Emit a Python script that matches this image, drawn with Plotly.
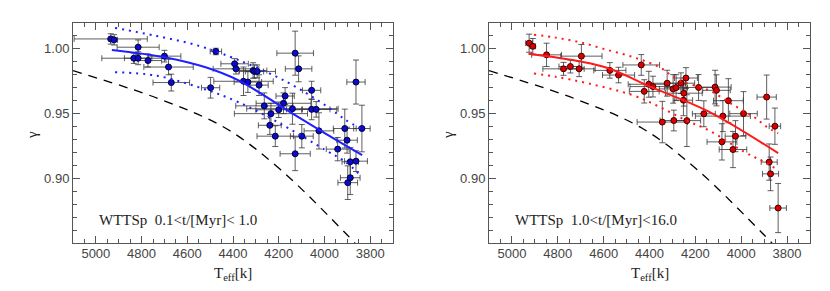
import plotly.graph_objects as go

# ---------------- data: left panel (WTTSp 0.1<t/[Myr]<1.0) ----------------
teff_a = [4935, 4920, 4815, 4834, 4815, 4772, 4700, 4682, 4670, 4498,
          4475, 4393, 4387, 4354, 4335, 4312, 4306, 4294, 4286, 4263,
          4239, 4234, 4215, 4200, 4179, 4172, 4140, 4128, 4128, 4113,
          4099, 4056, 4056, 4036, 4024, 3942, 3911, 3901, 3898, 3887,
          3887, 3862, 3862, 3836]
gamma_a = [1.0077, 1.0070, 1.0013, 0.9928, 0.9928, 0.9910, 0.9944, 0.9860, 0.9740, 0.9700,
           0.9980, 0.9885, 0.9846, 0.9750, 0.9744, 0.9833, 0.9826, 0.9826, 0.9720, 0.9560,
           0.9410, 0.9500, 0.9326, 0.9530, 0.9580, 0.9636, 0.9538, 0.9967, 0.9190, 0.9846,
           0.9326, 0.9680, 0.9533, 0.9533, 0.9367, 0.9226, 0.9385, 0.9295, 0.8967, 0.9128,
           0.9005, 0.9744, 0.9133, 0.9385]
dteff_a = [160, 15, 92, 140, 60, 60, 72, 108, 80, 40,
           25, 60, 100, 130, 60, 60, 40, 80, 40, 125,
           50, 160, 80, 100, 120, 40, 200, 80, 66, 58,
           50, 40, 110, 60, 65, 50, 50, 45, 43, 36,
           43, 40, 50, 36]
dgamma_a = [0.004, 0.004, 0.0056, 0.004, 0.005, 0.005, 0.0045, 0.006, 0.0065, 0.008,
            0.0025, 0.004, 0.004, 0.011, 0.008, 0.006, 0.005, 0.005, 0.008, 0.010,
            0.007, 0.008, 0.008, 0.006, 0.008, 0.0065, 0.012, 0.017, 0.013, 0.010,
            0.009, 0.007, 0.008, 0.006, 0.014, 0.009, 0.015, 0.010, 0.013, 0.011,
            0.013, 0.017, 0.008, 0.018]

fit_teff_a = [4930, 4700, 4520, 4380, 4130, 3990, 3835]
fit_a = [0.9992, 0.9936, 0.9858, 0.9760, 0.9490, 0.9340, 0.9180]
up_teff_a = [4916, 4740, 4552, 4378, 4170, 3997, 3910, 3837]
up_a = [1.0162, 1.0102, 1.0025, 0.9915, 0.9750, 0.9566, 0.9455, 0.9380]
lo_teff_a = [4916, 4740, 4552, 4378, 4170, 3997, 3910, 3837]
lo_a = [0.9820, 0.9795, 0.9705, 0.9590, 0.9400, 0.9220, 0.9130, 0.9015]

# ---------------- data: right panel (WTTSp 1.0<t/[Myr]<16.0) ----------------
teff_b = [4925, 4909, 4849, 4775, 4745, 4707, 4697, 4573, 4535, 4436,
          4423, 4403, 4385, 4344, 4323, 4294, 4297, 4284, 4263, 4250,
          4241, 4252, 4237, 4186, 4163, 4114, 4108, 4056, 4080, 4084,
          4025, 4036, 3990, 3889, 3878, 3872, 3853, 3839]
gamma_b = [1.0044, 1.0020, 0.9954, 0.9846, 0.9864, 0.9846, 0.9944, 0.9834, 0.9798, 0.9876,
           0.9672, 0.9727, 0.9709, 0.9435, 0.9735, 0.9447, 0.9691, 0.9701, 0.9735, 0.9658,
           0.9775, 0.9604, 0.9446, 0.9702, 0.9499, 0.9705, 0.9680, 0.9600, 0.9481, 0.9282,
           0.9326, 0.9223, 0.9500, 0.9628, 0.9126, 0.9035, 0.9403, 0.8771]
dteff_b = [15, 12, 65, 90, 50, 70, 90, 70, 70, 80,
           65, 90, 100, 110, 80, 60, 60, 50, 60, 80,
           50, 40, 60, 70, 50, 70, 60, 65, 120, 65,
           45, 60, 60, 42, 35, 35, 25, 36]
dgamma_b = [0.007, 0.006, 0.009, 0.005, 0.005, 0.006, 0.009, 0.006, 0.006, 0.008,
            0.009, 0.010, 0.008, 0.016, 0.010, 0.008, 0.011, 0.010, 0.008, 0.010,
            0.008, 0.012, 0.020, 0.010, 0.010, 0.013, 0.012, 0.017, 0.012, 0.014,
            0.012, 0.014, 0.017, 0.017, 0.014, 0.013, 0.014, 0.019]

fit_teff_b = [4928, 4600, 4400, 4150, 3839]
fit_b = [0.9963, 0.9862, 0.9710, 0.9523, 0.9195]
up_teff_b = [4904, 4810, 4709, 4600, 4474, 4358, 4272, 4140, 4034, 3947, 3890, 3839]
up_b = [1.0110, 1.0087, 1.0054, 1.0000, 0.9938, 0.9860, 0.9758, 0.9680, 0.9566, 0.9477, 0.9400, 0.9348]
lo_teff_b = [4904, 4810, 4666, 4474, 4358, 4243, 4140, 3990, 3904, 3839]
lo_b = [0.9810, 0.9785, 0.9733, 0.9643, 0.9554, 0.9450, 0.9370, 0.9208, 0.9130, 0.9066]

# model (dashed) curve, same in both panels
model_teff = [5100, 4725, 4430, 4190, 3915, 3866]
model_gamma = [0.9832, 0.9615, 0.9385, 0.9064, 0.8590, 0.8500]

labels = ["WTTSp  0.1<t/[Myr]< 1.0", "WTTSp  1.0<t/[Myr]<16.0"]

W, H = 830, 291
OFF = 8  # page body margin offset
fig = go.Figure()

panels = [
    dict(t=teff_a, g=gamma_a, dt=dteff_a, dg=dgamma_a, ft=fit_teff_a, f=fit_a,
         ut=up_teff_a, u=up_a, lt=lo_teff_a, l=lo_a,
         line="#1f1fff", mk="#0b0bc8", mkl="#000040", xa="x", ya="y"),
    dict(t=teff_b, g=gamma_b, dt=dteff_b, dg=dgamma_b, ft=fit_teff_b, f=fit_b,
         ut=up_teff_b, u=up_b, lt=lo_teff_b, l=lo_b,
         line="#ff1a1a", mk="#d80000", mkl="#400000", xa="x2", ya="y2"),
]

err_col = "rgba(55,55,55,0.8)"
for p in panels:
    fig.add_trace(go.Scatter(x=model_teff, y=model_gamma, mode="lines",
                             line=dict(color="black", width=1.3, dash="9px,7px", shape="spline"),
                             xaxis=p["xa"], yaxis=p["ya"], showlegend=False))
    fig.add_trace(go.Scatter(x=p["t"], y=p["g"], mode="markers",
                             marker=dict(size=6, color=p["mk"], line=dict(color=p["mkl"], width=1)),
                             error_x=dict(type="data", array=p["dt"], color=err_col, thickness=1, width=3),
                             error_y=dict(type="data", array=p["dg"], color=err_col, thickness=1, width=3),
                             xaxis=p["xa"], yaxis=p["ya"], showlegend=False))
    fig.add_trace(go.Scatter(x=p["ft"], y=p["f"], mode="lines",
                             line=dict(color=p["line"], width=2, shape="spline"),
                             xaxis=p["xa"], yaxis=p["ya"], showlegend=False))
    for tt, vv in ((p["ut"], p["u"]), (p["lt"], p["l"])):
        fig.add_trace(go.Scatter(x=tt, y=vv, mode="lines",
                                 line=dict(color=p["line"], width=2, dash="2px,5px", shape="spline"),
                                 xaxis=p["xa"], yaxis=p["ya"], showlegend=False))

tickfont = dict(family="Liberation Sans", size=13, color="#444")
def xax(domain, anchor):
    return dict(domain=domain, anchor=anchor, range=[5100, 3700],
                tickmode="linear", tick0=0, dtick=200,
                showline=True, linecolor="#555", linewidth=1, mirror="allticks",
                ticks="inside", ticklen=7, tickcolor="#555", showgrid=False, zeroline=False,
                tickfont=tickfont, ticklabelstandoff=-2,
                minor=dict(dtick=50, ticks="inside", ticklen=4, tickcolor="#555", showgrid=False))
def yax(domain, anchor):
    return dict(domain=domain, anchor=anchor, range=[0.8501, 1.02],
                tickmode="linear", tick0=0, dtick=0.05, tickformat=".2f",
                showline=True, linecolor="#555", linewidth=1, mirror="allticks",
                ticks="inside", ticklen=7, tickcolor="#555", showgrid=False, zeroline=False,
                tickfont=tickfont,
                minor=dict(dtick=0.01, ticks="inside", ticklen=4, tickcolor="#555", showgrid=False))

def px(x):
    return (x - OFF) / W
def py(y):
    return 1 - (y - OFF) / H

ydom = [py(243), py(23)]
fig.update_layout(
    width=W, height=H, margin=dict(l=0, r=0, t=0, b=0),
    paper_bgcolor="white", plot_bgcolor="white",
    xaxis=xax([px(73), px(393)], "y"), yaxis=yax(ydom, "x"),
    xaxis2=xax([px(489), px(810)], "y2"), yaxis2=yax(ydom, "x2"),
)

annos = []
for i, (x0, xr) in enumerate(((73, 393), (489, 810))):
    annos.append(dict(text=labels[i], xref="paper", yref="paper", x=px(x0 + 24), y=py(220),
                      xanchor="left", yanchor="middle", showarrow=False,
                      font=dict(family="Liberation Serif", size=15, color="#222")))
    annos.append(dict(text="T<sub>eff</sub>[k]", xref="paper", yref="paper", x=px((x0 + xr) / 2),
                      y=py(274), xanchor="center", yanchor="middle", showarrow=False,
                      font=dict(family="Liberation Serif", size=15, color="#222")))
    annos.append(dict(text="γ", xref="paper", yref="paper", x=px(x0 - 41), y=py(135),
                      xanchor="center", yanchor="middle", showarrow=False, textangle=-90,
                      font=dict(family="Liberation Serif", size=15, color="#222")))
fig.update_layout(annotations=annos)

fig.write_html("out.html")
